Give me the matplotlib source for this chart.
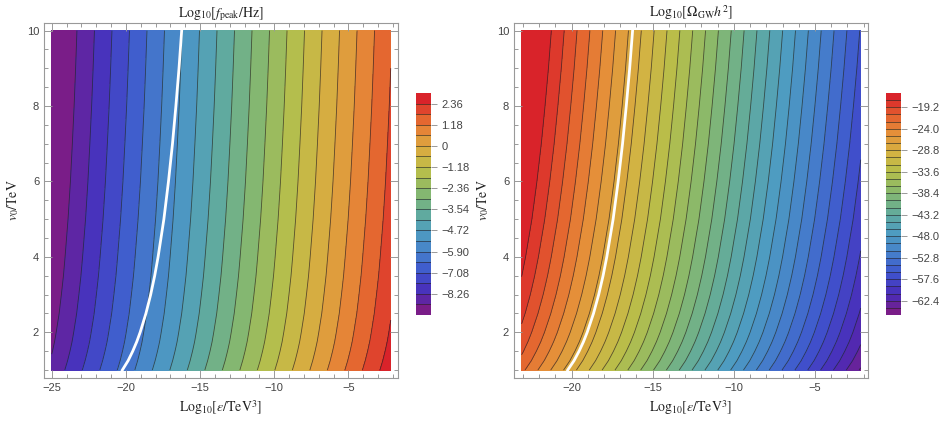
import numpy as np
import matplotlib
matplotlib.use("Agg")
import matplotlib.pyplot as plt
from matplotlib.colors import LinearSegmentedColormap, ListedColormap, BoundaryNorm
from matplotlib.cm import ScalarMappable
from matplotlib.ticker import MultipleLocator

plt.rcParams['mathtext.fontset'] = 'stix'
plt.rcParams['font.family'] = ['Liberation Sans', 'DejaVu Sans']

v0_rows = [1, 1.25, 1.5, 1.75, 2, 2.5, 3, 3.5, 4, 5, 6, 7, 8, 9, 10]
# horizontal shift of the f_peak contours relative to v0 = 1
shift_fpeak = [0, 0.19, 0.35, 0.49, 0.60, 0.80, 0.95, 1.09, 1.20, 1.40, 1.56, 1.69, 1.81, 1.91, 2.0]
# horizontal shift of the Omega contours relative to v0 = 1
shift_omega = [0, 0.39, 0.70, 0.97, 1.20, 1.59, 1.91, 2.18, 2.41, 2.80, 3.11, 3.38, 3.61, 3.82, 4.0]
# white boundary curve, Log10[eps] at each v0 row
white_x = [-20.24, -19.85, -19.54, -19.27, -19.04, -18.65, -18.33, -18.06, -17.83,
           -17.44, -17.13, -16.86, -16.63, -16.42, -16.24]

# left panel: Log10 f_peak
eps_range_f = [-25, -2.15]
slope_f = 0.5          # per decade of eps
offset_f = 3.8
levels_f = [round(0.59 * k, 2) for k in range(-15, 5)]
bar_f = [-9.44, 2.95]
ticks_f = [-8.26, -7.08, -5.90, -4.72, -3.54, -2.36, -1.18, 0, 1.18, 2.36]
ticklabels_f = ['−8.26', '−7.08', '−5.90', '−4.72', '−3.54', '−2.36', '−1.18', '0', '1.18', '2.36']

# right panel: Log10 Omega h^2
eps_range_o = [-23.08, -2.18]
slope_o = -2.02
offset_o = -68.6
levels_o = [round(-64 + 1.6 * k, 1) for k in range(30)]
bar_o = [-65.6, -16.0]
ticks_o = [-62.4, -57.6, -52.8, -48.0, -43.2, -38.4, -33.6, -28.8, -24.0, -19.2]
ticklabels_o = ['−62.4', '−57.6', '−52.8', '−48.0', '−43.2', '−38.4', '−33.6', '−28.8', '−24.0', '−19.2']

rainbow = LinearSegmentedColormap.from_list('mma_rainbow', [
    (0.00, '#7a1d88'), (0.08, '#4a2cb8'), (0.18, '#3e55ce'), (0.28, '#4682ca'),
    (0.37, '#4f9ec0'), (0.46, '#62ab9b'), (0.56, '#88b96c'), (0.66, '#b8be4a'),
    (0.74, '#d4b242'), (0.83, '#e5923a'), (0.91, '#e4622f'), (1.00, '#d9232a')])

gray = '#999999'
txt = '#444444'

fig = plt.figure(figsize=(9.42, 4.23), dpi=100)


def panel(rect, cbrect, xr, xlim, slope, offset, shift, levels, bar, ticks, ticklabels, title, majx):
    ax = fig.add_axes(rect)
    x = np.linspace(xr[0], xr[1], 500)
    y = np.linspace(1, 10, 400)
    X, Y = np.meshgrid(x, y)
    S = np.interp(Y, v0_rows, shift)
    Z = slope * (X - S) + offset
    n = len(levels) + 1
    cols = [rainbow(i / (n - 1)) for i in range(n)]
    fill_lv = [min(Z.min(), bar[0]) - 1] + levels + [max(Z.max(), bar[1]) + 1]
    ax.contourf(X, Y, Z, levels=fill_lv, colors=cols)
    ax.contour(X, Y, Z, levels=levels, colors='#222222', linewidths=0.6, alpha=0.7,
               linestyles='solid')
    ax.plot(white_x, v0_rows, color='white', lw=2)
    ax.set_xlim(xlim)
    ax.set_ylim(0.79, 10.2)
    ax.xaxis.set_minor_locator(MultipleLocator(1))
    ax.yaxis.set_major_locator(MultipleLocator(2))
    ax.yaxis.set_minor_locator(MultipleLocator(0.5))
    ax.set_xticks(majx)
    ax.set_xticklabels(['−%d' % abs(v) for v in majx])
    ax.tick_params(which='both', direction='in', top=True, right=True, color=gray,
                   labelsize=8, labelcolor=txt, width=0.7)
    ax.tick_params(which='major', length=6)
    ax.tick_params(which='minor', length=3)
    for sp in ax.spines.values():
        sp.set_color(gray)
        sp.set_linewidth(0.8)
    ax.set_title(title, fontsize=10, color='#222222', pad=4)
    ax.set_xlabel(r'$\mathrm{Log}_{10}[\varepsilon/\mathrm{TeV}^3]$', fontsize=10, color='#222222')
    ax.set_ylabel(r'$v_0/\mathrm{TeV}$', fontsize=10, color='#222222')

    cax = fig.add_axes(cbrect)
    bounds = [bar[0]] + levels + [bar[1]]
    sm = ScalarMappable(norm=BoundaryNorm(bounds, n), cmap=ListedColormap(cols))
    cb = fig.colorbar(sm, cax=cax, boundaries=bounds, spacing='proportional')
    cb.outline.set_visible(False)
    for lv in levels:
        cax.axhline(lv, color='#222222', lw=0.6, alpha=0.7)
    cb.set_ticks(ticks)
    cb.set_ticklabels(ticklabels)
    cax.tick_params(length=4, color=gray, labelsize=8, labelcolor=txt, width=0.7)
    cax.minorticks_off()
    return ax


panel([44 / 942, 45 / 423, 354 / 942, 355 / 423], [416 / 942, 108 / 423, 15 / 942, 222 / 423],
      eps_range_f, (-25.52, -1.66), slope_f, offset_f, shift_fpeak, levels_f, bar_f,
      ticks_f, ticklabels_f, r'$\mathrm{Log}_{10}[f_{\mathrm{peak}}/\mathrm{Hz}]$', [-25, -20, -15, -10, -5])
panel([514 / 942, 45 / 423, 354 / 942, 355 / 423], [886 / 942, 108 / 423, 15 / 942, 222 / 423],
      eps_range_o, (-23.55, -1.73), slope_o, offset_o, shift_omega, levels_o, bar_o,
      ticks_o, ticklabels_o, r'$\mathrm{Log}_{10}[\Omega_{\mathrm{GW}}h^2]$', [-20, -15, -10, -5])

fig.savefig('out.png', dpi=100)
